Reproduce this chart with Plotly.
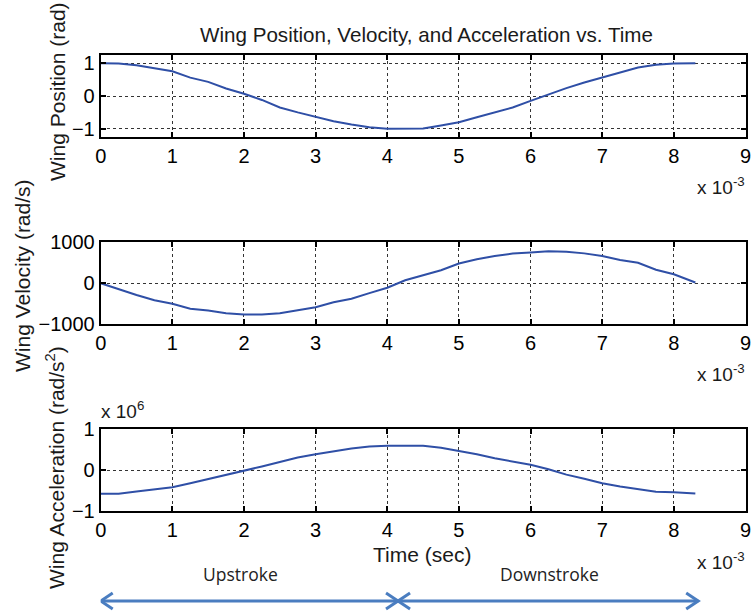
import plotly.graph_objects as go

# time in ms (axis shows x 10^-3 sec)
time_ms = [0, 0.25, 0.5, 0.75, 1.0, 1.25, 1.5, 1.75, 2.0, 2.25, 2.5, 2.75, 3.0, 3.25,
           3.5, 3.75, 4.0, 4.25, 4.5, 4.75, 5.0, 5.25, 5.5, 5.75, 6.0, 6.25, 6.5, 6.75,
           7.0, 7.25, 7.5, 7.75, 8.0, 8.3]
position = [1.0, 0.99, 0.94, 0.84, 0.755, 0.56, 0.43, 0.23, 0.07, -0.12, -0.35, -0.5,
            -0.64, -0.77, -0.87, -0.95, -1.0, -1.0, -0.99, -0.9, -0.8, -0.65, -0.5, -0.35,
            -0.15, 0.05, 0.24, 0.41, 0.56, 0.73, 0.87, 0.95, 0.99, 1.0]
velocity = [0, -150, -285, -415, -500, -620, -664, -728, -762, -762, -730, -660, -582,
            -462, -377, -240, -107, 75, 197, 320, 484, 585, 664, 725, 754, 780, 770, 730,
            664, 570, 500, 330, 221, 20]
# acceleration in units of 1e6 rad/s^2
acceleration = [-0.58, -0.58, -0.52, -0.47, -0.42, -0.32, -0.22, -0.11, -0.02, 0.09, 0.2,
                0.31, 0.39, 0.46, 0.53, 0.58, 0.6, 0.6, 0.6, 0.55, 0.47, 0.39, 0.29, 0.21,
                0.13, 0.02, -0.11, -0.21, -0.32, -0.4, -0.47, -0.53, -0.54, -0.57]

x_ticks = list(range(10))
stroke_bounds = [0, 4.15, 8.34]
stroke_names = ['Upstroke', 'Downstroke']
stroke_label_x = [1.95, 6.27]

W, H = 751, 614
FONT = 'Liberation Sans, Arial, sans-serif'
LINE = '#2f4fa6'
ARROW = '#4a7dc0'

def px(x):
    return x / W

def py(y):
    return 1 - y / H

fig = go.Figure()
fig.add_trace(go.Scatter(x=time_ms, y=position, mode='lines', xaxis='x', yaxis='y',
                         line=dict(color=LINE, width=2)))
fig.add_trace(go.Scatter(x=time_ms, y=velocity, mode='lines', xaxis='x2', yaxis='y2',
                         line=dict(color=LINE, width=2)))
fig.add_trace(go.Scatter(x=time_ms, y=acceleration, mode='lines', xaxis='x3', yaxis='y3',
                         line=dict(color=LINE, width=2)))

xdom = [px(100.7), px(745.5)]
ydoms = [[py(137), py(55)], [py(324.3), py(242.3)], [py(511), py(429.3)]]

axis_common = dict(showline=True, linewidth=2, linecolor='black', mirror='allticks',
                   ticks='inside', ticklen=5, tickwidth=2, tickcolor='black',
                   showgrid=True, gridcolor='#333333', gridwidth=1, griddash='3px,3px',
                   zeroline=False, automargin=False, ticklabeloverflow='allow',
                   tickfont=dict(family=FONT, size=20, color='black'))

yranges = [[-1.25, 1.25], [-1000, 1000], [-1, 1]]
yticks = [[-1, 0, 1], [-1000, 0, 1000], [-1, 0, 1]]
layout = dict(width=W, height=H, margin=dict(l=0, r=0, t=0, b=0, autoexpand=False),
              paper_bgcolor='white', plot_bgcolor='white', showlegend=False)
for i in range(3):
    sx = '' if i == 0 else str(i + 1)
    layout['xaxis' + sx] = dict(domain=xdom, range=[0, 9], tickvals=x_ticks,
                                anchor='y' + sx, **axis_common)
    layout['yaxis' + sx] = dict(domain=ydoms[i], range=yranges[i], tickvals=yticks[i],
                                anchor='x' + sx, **axis_common)
fig.update_layout(**layout)

tf = dict(family=FONT, size=21, color='#1a1a1a')
sf = dict(family=FONT, size=19, color='#1a1a1a')
ann = [
    dict(text='Wing Position, Velocity, and Acceleration vs. Time', x=px(426), y=py(34),
         font=dict(family=FONT, size=20.6, color='#1a1a1a')),
    dict(text='Wing Position (rad)', x=px(57), y=py(92), textangle=-90),
    dict(text='Wing Velocity (rad/s)', x=px(22), y=py(276), textangle=-90),
    dict(text='Wing Acceleration (rad/s<sup>2</sup>)', x=px(55), y=py(468), textangle=-90),
    dict(text='Time (sec)', x=px(422), y=py(554)),
    dict(text='x 10<sup>-3</sup>', x=px(747), y=py(186), xanchor='right', font=sf),
    dict(text='x 10<sup>-3</sup>', x=px(747), y=py(373), xanchor='right', font=sf),
    dict(text='x 10<sup>-3</sup>', x=px(747), y=py(561), xanchor='right', font=sf),
    dict(text='x 10<sup>6</sup>', x=px(99), y=py(410), xanchor='left', font=sf),
]
for a in ann:
    a.setdefault('xanchor', 'center')
    a.setdefault('font', tf)
    fig.add_annotation(xref='paper', yref='paper', yanchor='middle', showarrow=False, **a)

# stroke arrows below the bottom axis
ay = py(601)
hx = 12 / 71.64
hy = 8 / H
for k in range(2):
    x0, x1 = stroke_bounds[k], stroke_bounds[k + 1]
    fig.add_shape(type='line', xref='x3', yref='paper', x0=x0, x1=x1, y0=ay, y1=ay,
                  line=dict(color=ARROW, width=3))
    fig.add_shape(type='path', xref='x3', yref='paper',
                  path=f'M {x0 + hx} {ay + hy} L {x0} {ay} L {x0 + hx} {ay - hy}',
                  line=dict(color=ARROW, width=3))
    fig.add_shape(type='path', xref='x3', yref='paper',
                  path=f'M {x1 - hx} {ay + hy} L {x1} {ay} L {x1 - hx} {ay - hy}',
                  line=dict(color=ARROW, width=3))
    fig.add_annotation(text=stroke_names[k], xref='x3', yref='paper',
                       x=stroke_label_x[k], y=py(588), showarrow=False,
                       font=dict(family='Open Sans, Liberation Sans, sans-serif', size=17.5,
                                 color='#222222'))

# drop the default page margin so the figure sits at the window's corner
fig.write_html('out.html', config={'displayModeBar': False},
               post_script="document.body.style.margin='0';")
